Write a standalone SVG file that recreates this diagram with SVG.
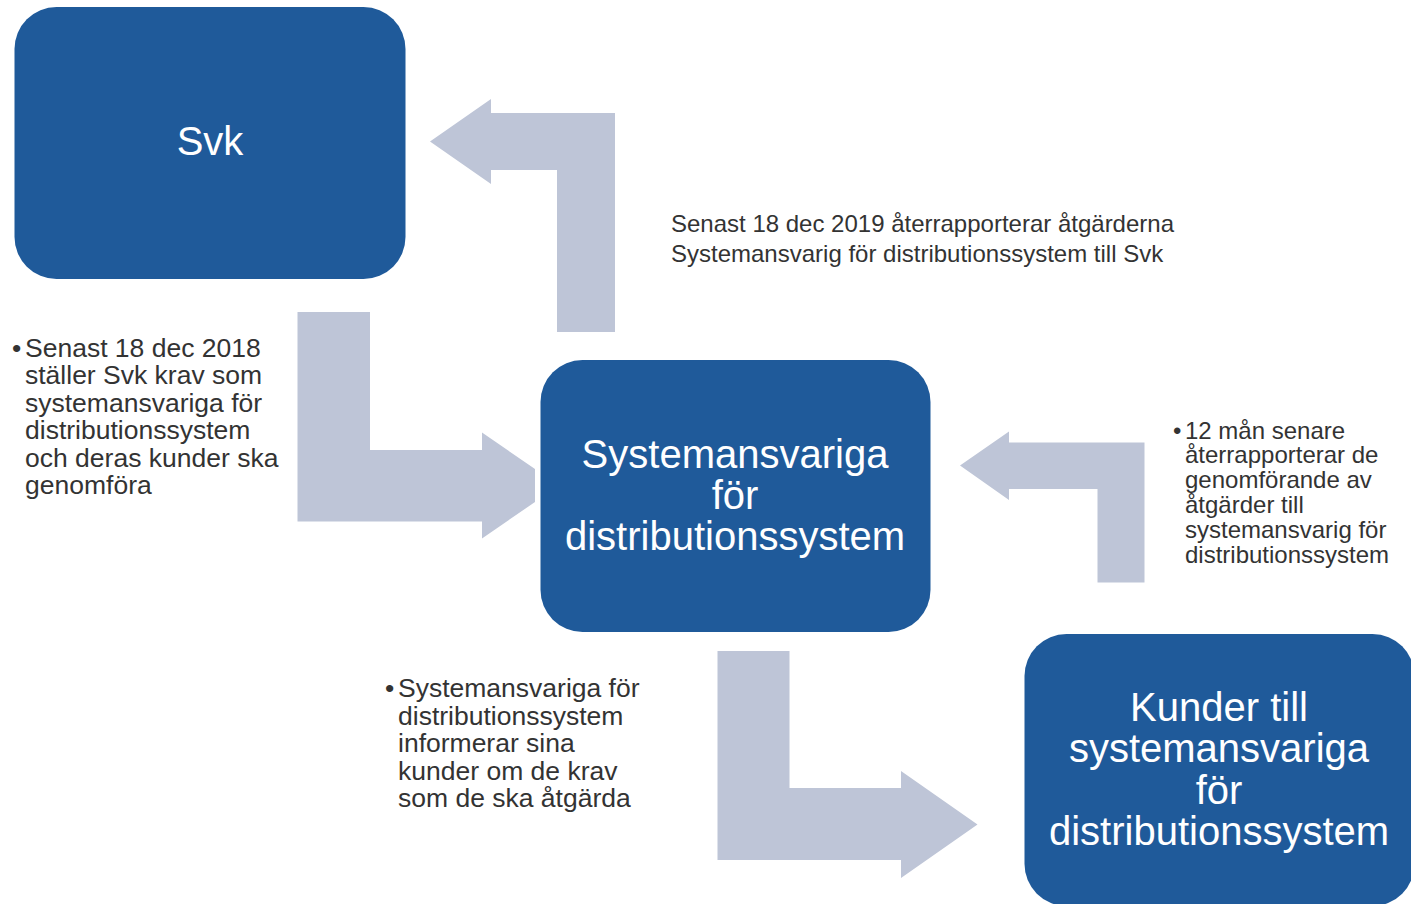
<svg xmlns="http://www.w3.org/2000/svg" width="1411" height="904" viewBox="0 0 1411 904">
<style>
.box{fill:#1F5A9A;}
.arr{fill:#BEC5D7;}
.nt{font-family:"Liberation Sans",Arial,sans-serif;font-size:40px;fill:#ffffff;text-anchor:middle;}
.lt{font-family:"Liberation Sans",Arial,sans-serif;fill:#333333;}
</style>
<rect width="1411" height="904" fill="#ffffff"/>
<g id="connectors">
<polygon class="arr" points="430,141.5 491,99 491,113 615,113 615,332 557,332 557,170 491,170 491,184"/>
<polygon class="arr" points="297.5,312 370,312 370,450 482,450 482,432.5 535,469 535,502 482,538.5 482,521.5 297.5,521.5"/>
<polygon class="arr" points="960,465.5 1009,431.5 1009,442.5 1144.5,442.5 1144.5,582.5 1097.5,582.5 1097.5,489 1009,489 1009,500"/>
<polygon class="arr" points="717.5,651 789.5,651 789.5,788 901,788 901,771 977.5,824.5 901,878 901,860 717.5,860"/>
</g>
<g id="node-svk">
<rect class="box" x="14.5" y="7" width="391" height="272" rx="42" ry="42"/>
<text class="nt" x="210" y="155">Svk</text>
</g>
<g id="node-systemansvariga">
<rect class="box" x="540.5" y="360" width="390" height="272" rx="42" ry="42"/>
<text class="nt" x="735" y="468">Systemansvariga</text>
<text class="nt" x="735" y="509">för</text>
<text class="nt" x="735" y="550">distributionssystem</text>
</g>
<g id="node-kunder">
<rect class="box" x="1024.5" y="634" width="390" height="272" rx="42" ry="42"/>
<text class="nt" x="1219" y="721">Kunder till</text>
<text class="nt" x="1219" y="762">systemansvariga</text>
<text class="nt" x="1219" y="804">för</text>
<text class="nt" x="1219" y="845">distributionssystem</text>
</g>
<g id="label-top">
<text class="lt" font-size="24" x="671" y="232">Senast 18 dec 2019 återrapporterar åtgärderna</text>
<text class="lt" font-size="24" x="671" y="262">Systemansvarig för distributionssystem till Svk</text>
</g>
<g id="label-left">
<text class="lt" font-size="26.5" x="12" y="357">•</text>
<text class="lt" font-size="26.5" x="25" y="357">Senast 18 dec 2018</text>
<text class="lt" font-size="26.5" x="25" y="384.4">ställer Svk krav som</text>
<text class="lt" font-size="26.5" x="25" y="411.8">systemansvariga för</text>
<text class="lt" font-size="26.5" x="25" y="439.2">distributionssystem</text>
<text class="lt" font-size="26.5" x="25" y="466.6">och deras kunder ska</text>
<text class="lt" font-size="26.5" x="25" y="494">genomföra</text>
</g>
<g id="label-right">
<text class="lt" font-size="24" x="1173" y="438.5">•</text>
<text class="lt" font-size="24" x="1185" y="438.5">12 mån senare</text>
<text class="lt" font-size="24" x="1185" y="463.3">återrapporterar de</text>
<text class="lt" font-size="24" x="1185" y="488.1">genomförande av</text>
<text class="lt" font-size="24" x="1185" y="512.9">åtgärder till</text>
<text class="lt" font-size="24" x="1185" y="537.7">systemansvarig för</text>
<text class="lt" font-size="24" x="1185" y="562.5">distributionssystem</text>
</g>
<g id="label-bottom">
<text class="lt" font-size="26.5" x="385" y="697">•</text>
<text class="lt" font-size="26.5" x="398" y="697">Systemansvariga för</text>
<text class="lt" font-size="26.5" x="398" y="724.6">distributionssystem</text>
<text class="lt" font-size="26.5" x="398" y="752.2">informerar sina</text>
<text class="lt" font-size="26.5" x="398" y="779.8">kunder om de krav</text>
<text class="lt" font-size="26.5" x="398" y="807.4">som de ska åtgärda</text>
</g>
</svg>
